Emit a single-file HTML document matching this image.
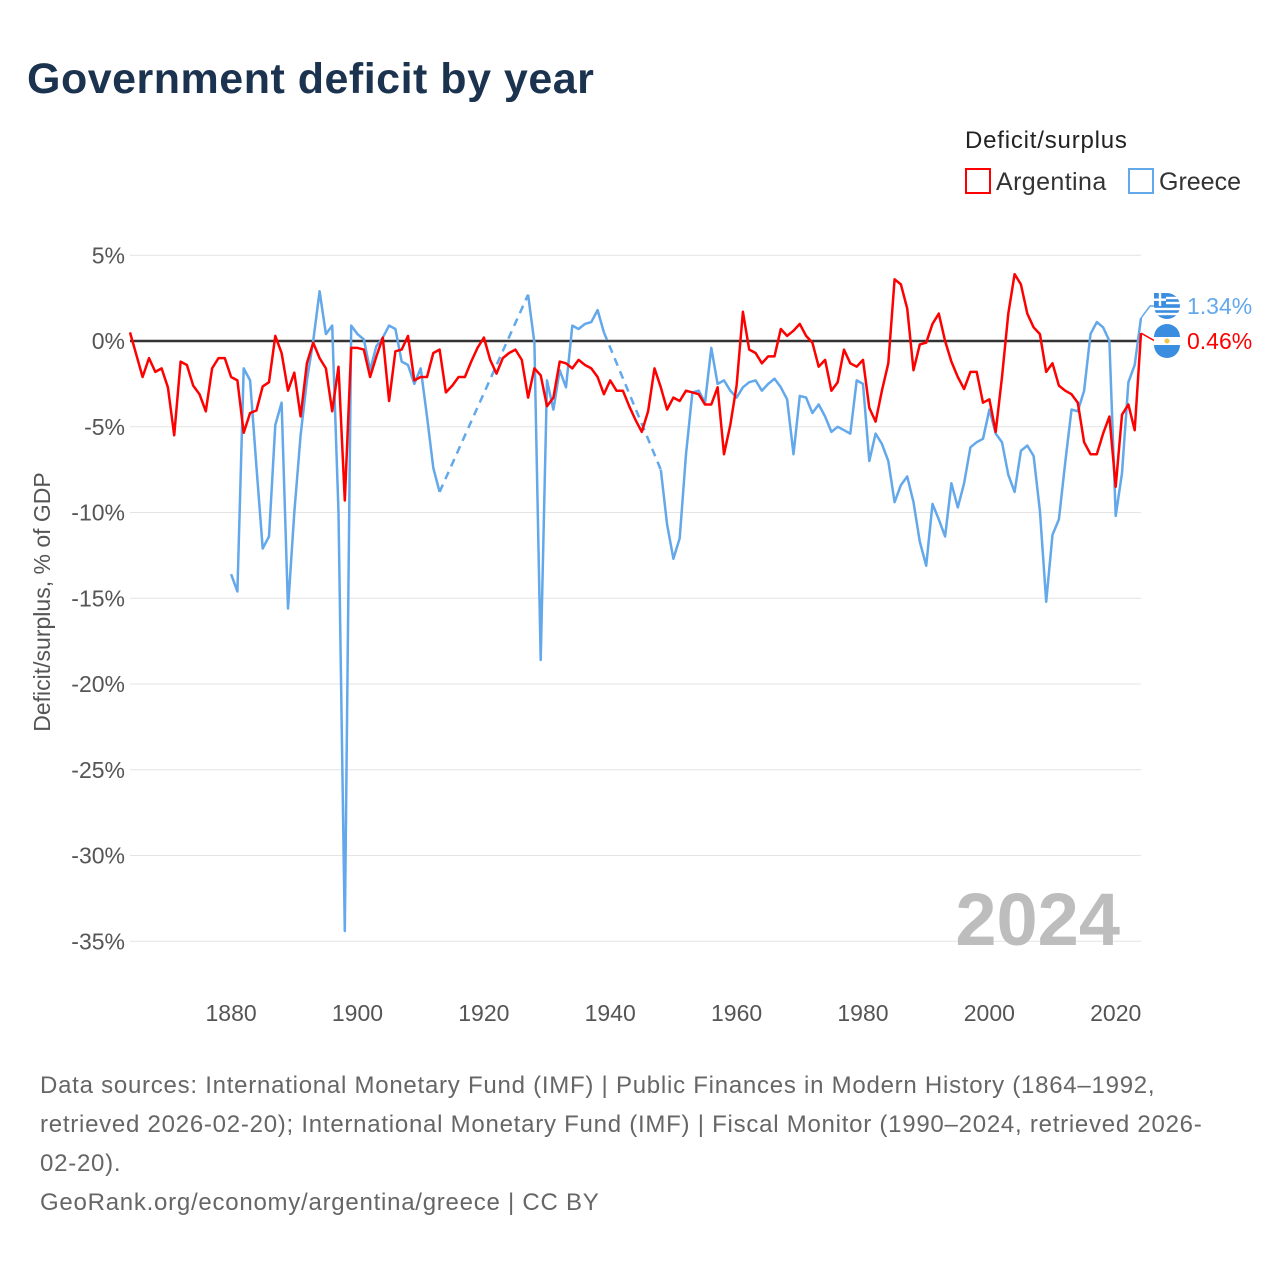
<!DOCTYPE html>
<html><head><meta charset="utf-8">
<style>
body{margin:0;background:#fff;width:1280px;height:1280px;overflow:hidden;font-family:"Liberation Sans",sans-serif;}
svg{position:absolute;left:0;top:0}
</style></head>
<body>
<svg id="chart" width="1280" height="1280">
<text x="27" y="93" font-size="43" font-weight="bold" fill="#1c3350" letter-spacing="0.5">Government deficit by year</text>
<text x="965" y="148" font-size="24" fill="#222" letter-spacing="0.8">Deficit/surplus</text>
<g><rect x="966" y="169" width="24" height="24" fill="none" stroke="#ff0000" stroke-width="2"/><text x="996" y="190" font-size="25" fill="#333" letter-spacing="0.4">Argentina</text></g>
<g><rect x="1129" y="169" width="24" height="24" fill="none" stroke="#62a8ea" stroke-width="2"/><text x="1159" y="190" font-size="25" fill="#333">Greece</text></g>
<text transform="translate(50,602) rotate(-90)" text-anchor="middle" font-size="23" fill="#555">Deficit/surplus, % of GDP</text>
<g id="grid"></g><g id="yt"></g><g id="xt"></g>
<text x="1120" y="945" text-anchor="end" font-size="74" font-weight="bold" fill="#bdbdbd">2024</text>
<g id="series"></g><g id="ends"></g>
<g font-size="24" fill="#666" letter-spacing="0.75">
<text x="40" y="1093">Data sources: International Monetary Fund (IMF) | Public Finances in Modern History (1864–1992,</text>
<text x="40" y="1132">retrieved 2026-02-20); International Monetary Fund (IMF) | Fiscal Monitor (1990–2024, retrieved 2026-</text>
<text x="40" y="1171">02-20).</text>
<text x="40" y="1210">GeoRank.org/economy/argentina/greece | CC BY</text>
</g>
</svg>
<script>
const yTicks=[5,0,-5,-10,-15,-20,-25,-30,-35];
const xTicks=[1880,1900,1920,1940,1960,1980,2000,2020];
const argStart=1864;
const argentina=[0.5,-0.8,-2.1,-1.0,-1.8,-1.6,-2.7,-5.5,-1.2,-1.4,-2.6,-3.1,-4.1,-1.6,-1.0,-1.0,-2.1,-2.3,-5.35,-4.2,-4.05,-2.65,-2.4,0.3,-0.7,-2.9,-1.85,-4.4,-1.3,-0.1,-1.0,-1.6,-4.1,-1.5,-9.3,-0.4,-0.4,-0.5,-2.1,-0.9,0.2,
-3.5,-0.6,-0.5,0.3,-2.3,-2.1,-2.1,-0.7,-0.5,-3.0,-2.6,-2.1,-2.1,-1.2,-0.4,0.2,-1.1,-1.9,-1.0,-0.7,-0.5,-1.1,-3.3,-1.6,-2.0,-3.8,-3.3,-1.2,-1.3,-1.6,-1.1,-1.4,-1.6,-2.1,-3.1,-2.3,-2.9,-2.9,-3.8,-4.6,-5.3,-4.1,-1.6,-2.7,-4.0,-3.3,-3.5,-2.9,-3.0,-3.1,-3.7,-3.7,-2.7,-6.6,-4.9,-2.6,1.7,-0.5,-0.7,-1.3,-0.9,-0.9,0.7,0.3,0.6,1.0,0.3,-0.1,-1.5,-1.1,-2.9,-2.4,-0.5,-1.3,-1.5,-1.1,-3.9,-4.7,-2.9,-1.3,3.6,3.3,1.9,-1.7,-0.2,-0.1,1.0,1.6,0.0,-1.2,-2.1,-2.8,-1.8,-1.8,-3.6,-3.4,-5.3,-2.1,1.6,3.9,3.3,1.6,0.8,0.4,-1.8,-1.3,-2.6,-2.9,-3.1,-3.6,-5.9,-6.6,-6.6,-5.4,-4.4,-8.5,-4.3,-3.7,-5.2,0.46];
const grStart=1880;
const greece=[-13.6,-14.6,-1.6,-2.3,-7.3,-12.1,-11.4,-4.9,-3.6,-15.6,-10.0,-5.5,-2.3,0.0,2.9,0.4,0.9,-10.0,-34.4,0.9,0.4,0.1,-1.7,-0.3,0.2,
0.9,0.7,-1.2,-1.4,-2.5,-1.6,-4.4,-7.4,-8.8,null,null,null,null,null,null,null,null,null,null,null,null,null,2.7,-0.1,-18.6,-2.3,-4.0,-1.7,-2.7,0.9,0.7,1.0,1.1,1.8,0.5,
null,null,null,null,null,null,null,null,-7.5,-10.7,-12.7,-11.5,-6.6,-3.0,-2.9,-3.6,-0.4,-2.5,-2.3,-2.9,-3.3,-2.7,-2.4,-2.3,-2.9,-2.5,-2.2,-2.7,-3.4,-6.6,-3.2,-3.3,-4.2,-3.7,-4.4,-5.3,-5.0,-5.2,-5.4,-2.3,-2.5,-7.0,
-5.4,-6.0,-7.0,-9.4,-8.4,-7.9,-9.4,-11.7,-13.1,-9.5,-10.4,-11.4,-8.3,-9.7,-8.3,-6.2,-5.9,-5.7,-4.0,-5.4,-5.9,-7.8,-8.8,-6.4,-6.1,-6.7,-9.9,-15.2,-11.3,-10.4,-7.1,-4.0,-4.1,-2.9,0.4,1.1,0.8,0.0,-10.2,-7.7,-2.4,-1.4,1.34];

const NS='http://www.w3.org/2000/svg';
const X0=130,X1=1141;
function xs(yr){return X0+(yr-1864)*(X1-X0)/(2024-1864);}
function ys(v){return 341-v*17.15;}
function mk(tag,attrs,parent){const e=document.createElementNS(NS,tag);for(const k in attrs)e.setAttribute(k,attrs[k]);parent.appendChild(e);return e;}
const grid=document.getElementById('grid'),yt=document.getElementById('yt'),xt=document.getElementById('xt');
yTicks.forEach(t=>{
  if(t!==0){const l=mk('line',{x1:X0,x2:X1,y1:ys(t),y2:ys(t),stroke:'#e4e4e4','stroke-width':1},grid);
  
  }
  const tx=mk('text',{x:125,y:ys(t)+8,'text-anchor':'end','font-size':23,fill:'#555'},yt);
  tx.textContent=t+'%';
  
  
});
xTicks.forEach(t=>{
  const tx=mk('text',{x:xs(t),y:1021,'text-anchor':'middle','font-size':23,fill:'#555'},xt);
  tx.textContent=t;
  
  
});
const ser=document.getElementById('series');
const zl=mk('line',{x1:X0,x2:X1,y1:ys(0),y2:ys(0),stroke:'#333','stroke-width':2.5},ser);


function draw(vals,start,color,name){
  const pts=vals.map((v,i)=>v===null?null:[xs(start+i),ys(v)]);
  let segs=[],cur=[];
  pts.forEach(p=>{if(p){cur.push(p);}else if(cur.length){segs.push(cur);cur=[];}});
  if(cur.length)segs.push(cur);
  segs.forEach((s,i)=>{
    const p=mk('path',{d:'M'+s.map(q=>q[0].toFixed(1)+','+q[1].toFixed(1)).join('L'),fill:'none',stroke:color,'stroke-width':2.5,'stroke-linejoin':'round'},ser);
    
    
    if(i>0){const a=segs[i-1][segs[i-1].length-1],b=s[0];
      const d=mk('line',{x1:a[0],y1:a[1],x2:b[0],y2:b[1],stroke:color,'stroke-width':2.5,'stroke-dasharray':'8,6'},ser);
      
      }
  });
}
draw(greece,grStart,'#62a8ea','greece');
draw(argentina,argStart,'#ff0000','argentina');
const ends=document.getElementById('ends');
const gv=greece[greece.length-1],av=argentina[argentina.length-1];
const gy=306,ay=341;
mk('path',{d:`M${X1},${ys(gv)}L1150,${gy}L1155,${gy}`,stroke:'#62a8ea',fill:'none','stroke-width':1.5},ends);
mk('line',{x1:X1,x2:1155,y1:ys(av),y2:ay,stroke:'#ff0000','stroke-width':1.5},ends);
const gf=mk('g',{},ends);


mk('circle',{cx:1167,cy:gy,r:13,fill:'#3b8de0'},gf);
[-8,-3,3,8].forEach(o=>mk('rect',{x:1154,y:gy+o-1.2,width:26,height:2.4,fill:'#fff'},gf));
mk('rect',{x:1154,y:gy-13,width:12,height:13,fill:'#3b8de0'},gf);
mk('rect',{x:1154,y:gy-7.5,width:12,height:2.4,fill:'#fff'},gf);
mk('rect',{x:1158.8,y:gy-13,width:2.4,height:13,fill:'#fff'},gf);
const af=mk('g',{},ends);


mk('circle',{cx:1167,cy:ay,r:13,fill:'#fff'},af);
mk('path',{d:`M1154,${ay-4}A13,13 0 0 1 1180,${ay-4}Z`,fill:'#3b8de0'},af);
mk('path',{d:`M1154,${ay+4}A13,13 0 0 0 1180,${ay+4}Z`,fill:'#3b8de0'},af);
mk('circle',{cx:1167,cy:ay,r:2.5,fill:'#f4c542'},af);
const gl=mk('text',{x:1187,y:gy+8,'font-size':23,fill:'#62a8ea'},ends);
gl.textContent=gv.toFixed(2)+'%';


const al=mk('text',{x:1187,y:ay+8,'font-size':23,fill:'#ff0000'},ends);
al.textContent=av.toFixed(2)+'%';


</script>
</body></html>
